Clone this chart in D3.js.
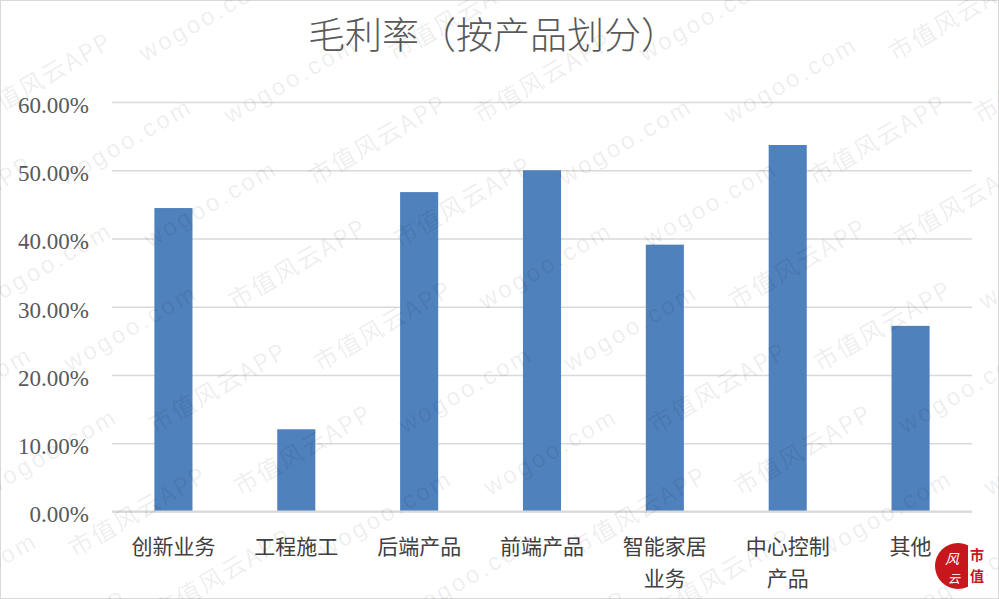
<!DOCTYPE html>
<html><head><meta charset="utf-8">
<script src="https://cdn.jsdelivr.net/npm/d3@7"></script>
<style>html,body{margin:0;padding:0;background:#fff;}svg{display:block;}</style>
</head><body>
<svg id="chart" width="999" height="599"></svg>
<script>
const title = "毛利率（按产品划分）";
const categories = ["创新业务", "工程施工", "后端产品", "前端产品", "智能家居业务", "中心控制产品", "其他"];
const values = [0.4446, 0.1205, 0.468, 0.500, 0.391, 0.537, 0.272];
const yTicks = [0, 0.1, 0.2, 0.3, 0.4, 0.5, 0.6];
const watermarkTexts = ["市值风云APP", "wogoo.com"];

const W = 999, H = 599;
const margin = {left: 112, right: 27, top: 102, bottom: 87};
const svg = d3.select("#chart");
const serif = "'Liberation Serif','Times New Roman','Noto Sans CJK SC',serif";
const cjk = "'Noto Sans CJK SC','Liberation Serif',serif";

svg.append("rect").attr("x",0.5).attr("y",0.5).attr("width",W-1).attr("height",H-1)
  .attr("fill","#fff").attr("stroke","#d9d9d9");

const x = d3.scaleBand().domain(categories).range([margin.left, W - margin.right]).paddingInner(0.69).paddingOuter(0.345);
const y = d3.scaleLinear().domain([0, 0.6]).range([H - margin.bottom - 0.5, margin.top]);

// gridlines + y labels via axis
const yAxis = d3.axisLeft(y).tickValues(yTicks).tickSize(-(W - margin.left - margin.right)).tickFormat(d3.format(".2%"));
const gy = svg.append("g").attr("transform", `translate(${margin.left},0)`).call(yAxis);
gy.select(".domain").remove();
gy.selectAll(".tick line").attr("stroke","#d9d9d9").attr("stroke-width",1.5);
gy.selectAll(".tick text").attr("x",-23).attr("dy","0.45em").attr("font-family",serif)
  .attr("font-size",23).attr("fill","#595959");

// bars
svg.append("g").selectAll("rect").data(values).join("rect")
  .attr("x", (d,i) => x(categories[i]))
  .attr("width", x.bandwidth())
  .attr("y", d => y(d))
  .attr("height", d => y(0) - y(d))
  .attr("fill", "#4f81bd");

// baseline
svg.append("line").attr("x1", margin.left).attr("x2", W - margin.right)
  .attr("y1", y(0)).attr("y2", y(0)).attr("stroke","#d9d9d9").attr("stroke-width",2);

// x labels (wrap at 4 chars)
const xAxis = d3.axisBottom(x).tickSize(0).tickFormat("");
const gx = svg.append("g").attr("transform", `translate(0,${y(0)})`).call(xAxis);
gx.select(".domain").remove();
gx.selectAll(".tick").each(function(d){
  const t = d3.select(this).append("text").attr("fill","#404040").attr("font-family",cjk)
    .attr("font-size",21).attr("text-anchor","middle");
  const lines = [];
  for (let i = 0; i < d.length; i += 4) lines.push(d.slice(i, i+4));
  lines.forEach((l, k) => t.append("tspan").attr("x",0).attr("y", 42 + k*32).text(l));
});

// title
svg.append("text").attr("x", 493).attr("y", 49).attr("text-anchor","middle")
  .attr("font-family", cjk).attr("font-size", 37).attr("fill","#595959").attr("font-weight", 300).text(title);

// watermark (tiled over the whole picture)
const wm = svg.append("g").attr("fill","#000").attr("fill-opacity",0.085)
  .attr("font-family", cjk).attr("font-size", 24).attr("pointer-events","none");
for (let row = -3; row < 12; row++) {
  for (let col = -2; col < 8; col++) {
    const cx = col * 250 + (row % 2 ? 125 : 0) - row * 40 + 60;
    const cy = row * 62;
    const txt = watermarkTexts[(row + col + 20) % 2];
    wm.append("text").attr("transform", `translate(${cx},${cy}) rotate(-30)`)
      .attr("font-family", txt === "wogoo.com" ? "'Liberation Sans',sans-serif" : cjk)
      .attr("letter-spacing", txt === "wogoo.com" ? 3 : 2)
      .text(txt);
  }
}

// logo
const logo = svg.append("g").attr("transform","translate(958,566)");
logo.append("circle").attr("r",23).attr("fill","#c8161d");
logo.append("rect").attr("x",10).attr("y",-24).attr("width",18).attr("height",48).attr("fill","#fff");
logo.append("text").attr("x",-6).attr("y",-2).attr("text-anchor","middle").attr("fill","#fff")
  .attr("font-family",cjk).attr("font-size",14).attr("font-style","italic").text("风");
logo.append("text").attr("x",-4).attr("y",17).attr("text-anchor","middle").attr("fill","#fff")
  .attr("font-family",cjk).attr("font-size",12).attr("font-style","italic").text("云");
logo.append("text").attr("x",19).attr("y",-6).attr("text-anchor","middle").attr("fill","#c8161d")
  .attr("font-family",cjk).attr("font-size",14).attr("font-weight","bold").text("市");
logo.append("text").attr("x",19).attr("y",15).attr("text-anchor","middle").attr("fill","#c8161d")
  .attr("font-family",cjk).attr("font-size",14).attr("font-weight","bold").text("值");
</script>
</body></html>
